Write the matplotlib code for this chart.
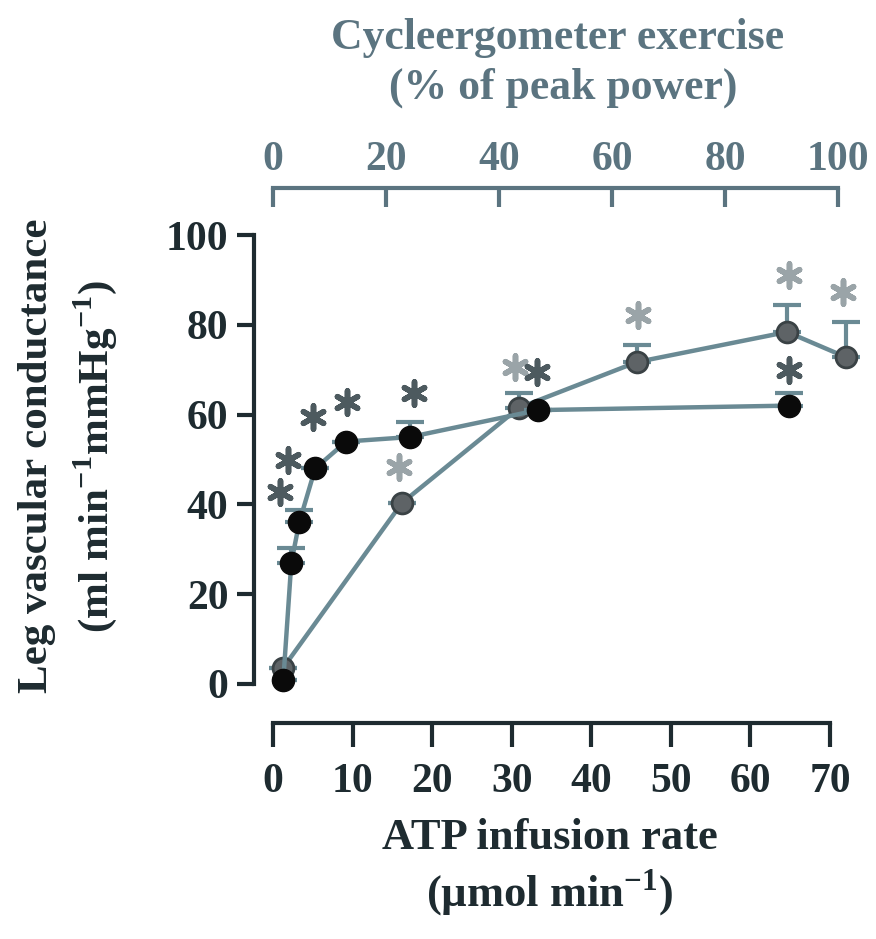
import numpy as np
import matplotlib
matplotlib.use("Agg")
import matplotlib.pyplot as plt

plt.rcParams['font.family'] = ['Liberation Serif', 'DejaVu Serif']
plt.rcParams['font.weight'] = 'bold'
plt.rcParams['mathtext.fontset'] = 'custom'
plt.rcParams['mathtext.rm'] = 'Liberation Serif'
plt.rcParams['mathtext.bf'] = 'Liberation Serif:bold'

# ATP infusion (bottom axis, umol/min)
atp_x = [1.3, 2.3, 3.3, 5.3, 9.2, 17.2, 33.3, 64.8]
atp_y = [1.0, 27.0, 36.0, 48.0, 54.0, 55.0, 61.0, 62.0]
atp_err = [0.0, 3.3, 2.8, 0.0, 0.0, 3.4, 0.0, 2.8]
atp_sig_x = [0.9, 1.9, 5.0, 9.3, 17.7, 33.2, 64.8]
atp_sig_y = [42.8, 49.9, 59.5, 62.8, 64.8, 69.5, 70.0]

# cycle ergometer exercise (top axis, % peak power)
ex_x = [1.8, 22.8, 43.5, 64.4, 91.0, 101.4]
ex_y = [3.6, 40.3, 61.5, 71.7, 78.4, 72.8]
ex_err = [0.0, 0.0, 3.3, 3.8, 6.0, 7.8]
ex_sig_x = [22.3, 42.8, 64.6, 91.3, 100.9]
ex_sig_y = [48.3, 70.6, 82.2, 91.1, 87.3]

dark = '#1e2b30'
light = '#5b7480'
line_c = '#6a8a94'

fig = plt.figure(figsize=(8.76, 9.39), dpi=100)
ax = fig.add_axes([273/876, 1-684/939, 565/876, 449/939])
ax2 = ax.twiny()

ax.set_xlim(0, 71)
ax.set_ylim(0, 100)
ax2.set_xlim(0, 100)

# exercise series (grey) on top axis
eb = ax2.errorbar(ex_x, ex_y, yerr=[np.zeros(len(ex_err)), ex_err], fmt='none',
                  ecolor=line_c, elinewidth=3, capsize=10, capthick=3, zorder=2)
for a in eb.lines[1] + eb.lines[2]:
    a.set_clip_on(False)
ax2.plot(ex_x, ex_y, '-', color=line_c, lw=3.2, zorder=3, clip_on=False)
ax2.plot(ex_x, ex_y, 'o', ms=15, mfc='#5e6366', mec='#3a4245', mew=2,
         zorder=4, clip_on=False)
ax2.scatter(ex_sig_x, ex_sig_y, marker=(6, 2, 0), s=280, color='#9aa4a8',
            linewidths=4, zorder=5, clip_on=False)

# ATP series (black) on bottom axis
ax.errorbar(atp_x, atp_y, yerr=[np.zeros(len(atp_err)), atp_err], fmt='none',
            ecolor=line_c, elinewidth=3, capsize=10, capthick=3, zorder=2)
ax.plot(atp_x, atp_y, '-', color=line_c, lw=3.2, zorder=3, clip_on=False)
ax.plot(atp_x, atp_y, 'o', ms=16, mfc='#0a0a0a', mec='#0a0a0a', zorder=4,
        clip_on=False)
ax.scatter(atp_sig_x, atp_sig_y, marker=(6, 2, 0), s=280, color='#4d5a5f',
           linewidths=4, zorder=5, clip_on=False)

ax.set_zorder(ax2.get_zorder() + 1)
ax.patch.set_visible(False)

# spines
for s in ['right', 'top']:
    ax.spines[s].set_visible(False)
for s in ['right', 'bottom', 'left']:
    ax2.spines[s].set_visible(False)

ax.spines['left'].set_position(('outward', 14))
ax.spines['bottom'].set_position(('outward', 28))
ax2.spines['top'].set_position(('outward', 34))
ax.spines['left'].set_bounds(0, 100)
ax.spines['bottom'].set_bounds(0, 70)
ax2.spines['top'].set_bounds(0, 100)
for sp in [ax.spines['left'], ax.spines['bottom']]:
    sp.set_linewidth(3)
    sp.set_color(dark)
ax2.spines['top'].set_linewidth(3)
ax2.spines['top'].set_color(light)

ax.set_yticks([0, 20, 40, 60, 80, 100])
ax.set_xticks([0, 10, 20, 30, 40, 50, 60, 70])
ax2.set_xticks([0, 20, 40, 60, 80, 100])

ax.tick_params(axis='y', direction='out', length=12, width=3, color=dark,
               labelsize=30, labelcolor=dark, pad=6)
ax.tick_params(axis='x', direction='out', length=17, width=3, color=dark,
               labelsize=30, labelcolor=dark, pad=12)
ax2.tick_params(axis='x', direction='in', length=14, width=3, color=light,
                labelsize=30, labelcolor=light, pad=6)

# axis titles
sup = r'$^{\mathbf{-1}}$'
fig.text(37/876, 1-456/939, 'Leg vascular conductance', rotation=90,
         ha='center', va='center', fontsize=31, color=dark)
fig.text(95/876, 1-456/939, '(ml min' + sup + 'mmHg' + sup + ')',
         rotation=90, ha='center', va='center', fontsize=31, color=dark)
fig.text(550/876, 1-838/939, 'ATP infusion rate', ha='center', va='center',
         fontsize=32, color=dark)
fig.text(550/876, 1-893/939, '(\u00b5mol min' + sup + ')',
         ha='center', va='center', fontsize=32, color=dark)
fig.text(558/876, 1-38/939, 'Cycleergometer exercise', ha='center', va='center',
         fontsize=31.5, color=light)
fig.text(563/876, 1-88/939, '(% of peak power)', ha='center', va='center',
         fontsize=31.5, color=light)

fig.savefig('out.png', dpi=100)
